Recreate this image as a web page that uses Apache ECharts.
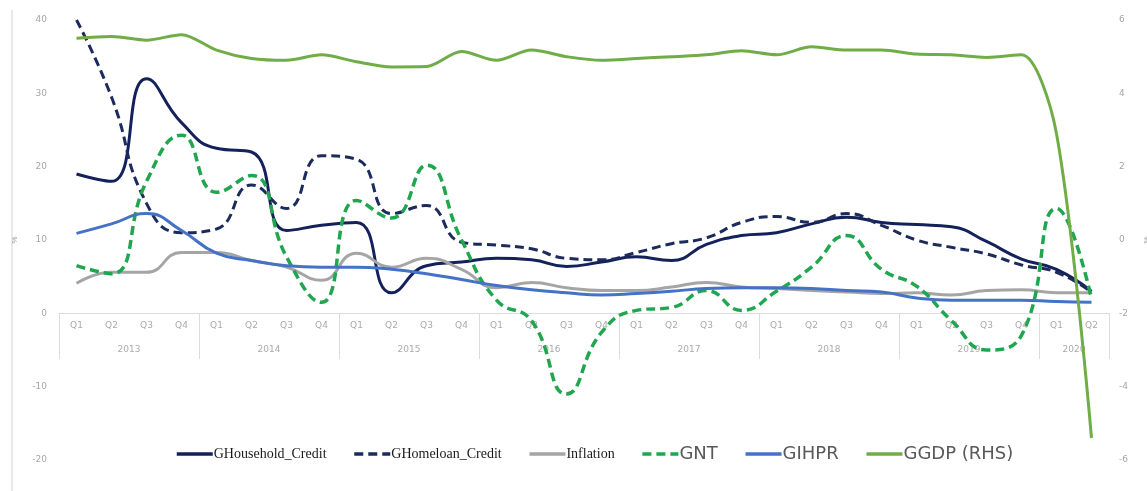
<!DOCTYPE html>
<html>
<head>
<meta charset="utf-8">
<title>Household credit, house prices and GDP growth</title>
<script src="https://cdn.jsdelivr.net/npm/echarts@6/dist/echarts.min.js"></script>
<style>
  html, body { margin: 0; padding: 0; background: #fff; }
  #chart { width: 1147px; height: 491px; }
</style>
</head>
<body>
<div id="chart"></div>
<script>
// quarters 2013 Q1 .. 2020 Q2
const quarters = [
  'Q1', 'Q2', 'Q3', 'Q4', 'Q1', 'Q2', 'Q3', 'Q4', 'Q1', 'Q2', 'Q3', 'Q4',
  'Q1', 'Q2', 'Q3', 'Q4', 'Q1', 'Q2', 'Q3', 'Q4', 'Q1', 'Q2', 'Q3', 'Q4',
  'Q1', 'Q2', 'Q3', 'Q4', 'Q1', 'Q2'
]
const years = [
  '2013', '2013', '2013', '2013', '2014', '2014', '2014', '2014', '2015', '2015', '2015', '2015',
  '2016', '2016', '2016', '2016', '2017', '2017', '2017', '2017', '2018', '2018', '2018', '2018',
  '2019', '2019', '2019', '2019', '2020', '2020'
]
// index of the quarter just left of each year's centre
const yearLabelAt = [1, 5, 9, 13, 17, 21, 25, 28]

const leftTicks = { min: -20, max: 40, interval: 10 }
const rightTicks = { min: -6, max: 6, interval: 2 }

const householdCredit = [19, 18, 32, 26, 22.5, 22, 11.3, 12, 12.4, 2.8, 6.5, 7, 7.5, 7.3, 6.4,
  7, 7.7, 7.2, 9.4, 10.6, 11, 12.2, 13.1, 12.4, 12.1, 11.8, 9.8, 7.4, 6, 3]
const homeloanCredit = [40, 29.5, 15, 11, 11.5, 17.5, 14.3, 21.5, 21, 13.6, 14.7, 9.7, 9.3, 8.8, 7.5,
  7.3, 8.3, 9.5, 10.3, 12.4, 13.2, 12.4, 13.6, 12, 10, 9, 8.1, 6.6, 5.6, 2.9]
const inflation = [4.1, 5.6, 5.6, 8.3, 8.3, 7.2, 6.3, 4.5, 8.2, 6.3, 7.5, 6, 3.5, 4.2, 3.5,
  3.1, 3.1, 3.6, 4.2, 3.6, 3.4, 3.1, 2.9, 2.7, 2.8, 2.5, 3.1, 3.2, 2.8, 2.8]
const gnt = [6.5, 5.4, 18, 24.3, 16.5, 18.8, 7.7, 1.5, 15.4, 13, 20.2, 10, 1.8, -1, -11,
  -2.6, 0.4, 0.8, 3.1, 0.4, 3, 6.3, 10.6, 6, 3.7, -1, -5, -3, 14.3, 2]
const gihpr = [10.9, 12.2, 13.6, 11.3, 8.2, 7.2, 6.5, 6.3, 6.3, 6, 5.4, 4.6, 3.8, 3.2, 2.8,
  2.5, 2.7, 3, 3.4, 3.5, 3.5, 3.4, 3.1, 2.9, 2.1, 1.8, 1.8, 1.8, 1.6, 1.5]
// right hand scale
const ggdp = [5.5, 5.55, 5.45, 5.6, 5.18, 4.95, 4.9, 5.05, 4.86, 4.72, 4.73, 5.14, 4.9, 5.18, 5,
  4.9, 4.95, 5, 5.05, 5.16, 5.05, 5.27, 5.18, 5.18, 5.07, 5.05, 4.98, 5.05, 2.9, -5.4]

const serifNames = ['GHousehold_Credit', 'GHomeloan_Credit', 'Inflation']

// x axis sits on the zero of the left scale: 440px * 20/60 above the grid bottom
const axisShift = -147

const chart = echarts.init(document.getElementById('chart'))

function line (name, data, color, opts) {
  opts = opts || {}
  return {
    name,
    type: 'line',
    data,
    yAxisIndex: opts.right ? 1 : 0,
    smooth: opts.smooth || true,
    symbol: 'none',
    lineStyle: { color, width: opts.width || 3, type: opts.dash || 'solid' },
    itemStyle: { color }
  }
}

chart.setOption({
  animation: false,
  backgroundColor: '#fff',
  grid: { left: 59, right: 38, top: 20, bottom: 31, outerBoundsMode: 'none' },
  legend: {
    left: 170,
    top: 440,
    itemWidth: 36,
    itemHeight: 14,
    itemGap: 26,
    itemStyle: { color: 'transparent', borderWidth: 0, opacity: 0 },
    lineStyle: { width: 3.5 },
    data: ['GHousehold_Credit', 'GHomeloan_Credit', 'Inflation', 'GNT', 'GIHPR', 'GGDP (RHS)'],
    formatter: name => serifNames.indexOf(name) >= 0 ? '{s|' + name + '}' : '{n|' + name + '}',
    textStyle: {
      padding: [0, 0, 0, -4],
      rich: {
        s: { fontFamily: 'Liberation Serif', fontSize: 14, color: '#1a1a1a' },
        n: { fontFamily: 'DejaVu Sans', fontSize: 18, color: '#595959' }
      }
    }
  },
  graphic: [
    { type: 'line', shape: { x1: 12, y1: 10, x2: 12, y2: 491 }, style: { stroke: '#d4d4d4', lineWidth: 1 } }
  ],
  xAxis: [
    {
      type: 'category',
      data: quarters,
      boundaryGap: true,
      offset: axisShift,
      axisLine: { onZero: false, lineStyle: { color: '#dcdcdc' } },
      axisTick: { show: false },
      axisLabel: { interval: 0, margin: 8, fontSize: 9, color: '#aaa', fontFamily: 'DejaVu Sans' },
      splitLine: { show: false }
    },
    {
      type: 'category',
      data: years,
      position: 'bottom',
      boundaryGap: true,
      offset: axisShift,
      axisLine: { onZero: false, lineStyle: { color: '#dcdcdc' } },
      axisTick: {
        show: true,
        length: 46,
        interval: idx => idx % 4 === 0,
        lineStyle: { color: '#dcdcdc' }
      },
      axisLabel: {
        interval: idx => yearLabelAt.indexOf(idx) >= 0,
        margin: 32,
        formatter: v => '{y|' + v + '}',
        rich: { y: { padding: [0, 0, 0, 35], fontSize: 9, color: '#aaa', fontFamily: 'DejaVu Sans' } }
      },
      splitLine: { show: false }
    }
  ],
  yAxis: [
    {
      type: 'value',
      min: leftTicks.min,
      max: leftTicks.max,
      interval: leftTicks.interval,
      name: '%',
      nameLocation: 'middle',
      nameGap: 40,
      nameTextStyle: { fontSize: 8, color: '#999' },
      axisLine: { show: false },
      axisTick: { show: false },
      axisLabel: { margin: 12, fontSize: 9, color: '#a6a6a6', fontFamily: 'DejaVu Sans' },
      splitLine: { show: false }
    },
    {
      type: 'value',
      min: rightTicks.min,
      max: rightTicks.max,
      interval: rightTicks.interval,
      name: '%',
      nameLocation: 'middle',
      nameGap: 34,
      nameTextStyle: { fontSize: 8, color: '#999' },
      axisLine: { show: false },
      axisTick: { show: false },
      axisLabel: { margin: 10, fontSize: 9, color: '#a6a6a6', fontFamily: 'DejaVu Sans' },
      splitLine: { show: false }
    }
  ],
  series: [
    line('GHousehold_Credit', householdCredit, '#15215a'),
    line('GHomeloan_Credit', homeloanCredit, '#1c2a5c', { dash: [9, 5] }),
    line('Inflation', inflation, '#a5a5a5'),
    line('GNT', gnt, '#1fa64f', { dash: [9, 5], width: 3.5 }),
    line('GIHPR', gihpr, '#4472c4'),
    line('GGDP (RHS)', ggdp, '#70ad47', { right: true, smooth: 0.3 })
  ]
})
</script>
</body>
</html>
